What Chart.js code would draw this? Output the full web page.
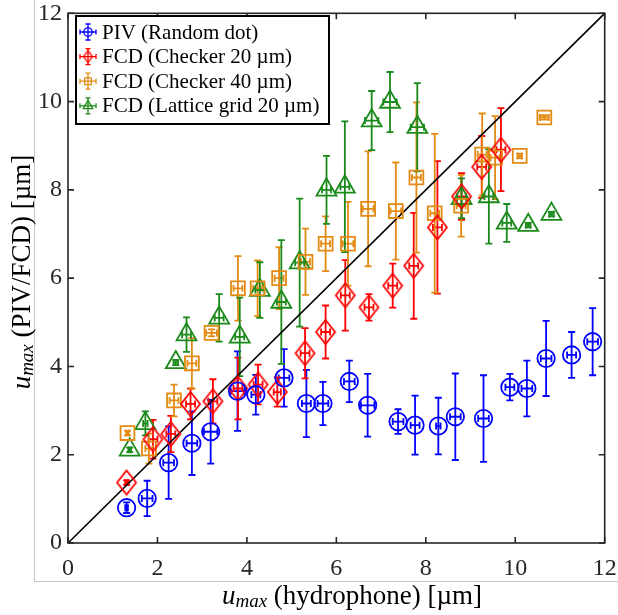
<!DOCTYPE html>
<html>
<head>
<meta charset="utf-8">
<script src="https://cdn.jsdelivr.net/npm/chart.js@4.4.0/dist/chart.umd.min.js"></script>
<style>
  html, body { margin: 0; padding: 0; background: #fff; }
</style>
</head>
<body>
<canvas id="umaxChart" width="618" height="615"></canvas>
<script>
// PIV (Random dot)
const pivX    = [1.31, 1.77, 2.25, 2.77, 3.19, 3.79, 4.20, 4.83, 5.33, 5.70, 6.29, 6.70, 7.38, 7.76, 8.28, 8.66, 9.29, 9.88, 10.26, 10.69, 11.26, 11.73];
const pivY    = [0.80, 1.01, 1.82, 2.26, 2.52, 3.44, 3.36, 3.74, 3.16, 3.16, 3.66, 3.12, 2.75, 2.67, 2.65, 2.86, 2.82, 3.53, 3.50, 4.18, 4.26, 4.56];
const pivXErr = [0.03, 0.12, 0.12, 0.12, 0.15, 0.15, 0.10, 0.12, 0.10, 0.12, 0.12, 0.15, 0.12, 0.10, 0.05, 0.12, 0.12, 0.10, 0.12, 0.12, 0.10, 0.12];
const pivYErr = [0.12, 0.40, 0.82, 0.72, 0.72, 0.90, 0.45, 0.65, 0.76, 0.49, 0.47, 0.71, 0.28, 0.67, 0.64, 0.98, 0.98, 0.30, 0.63, 0.85, 0.52, 0.76];

// FCD (Checker 20 um)
const c20X    = [1.31, 1.90, 2.30, 2.74, 3.24, 3.80, 4.25, 4.68, 5.30, 5.76, 6.20, 6.73, 7.26, 7.73, 8.26, 8.80, 9.25, 9.68];
const c20Y    = [1.37, 2.35, 2.47, 3.15, 3.21, 3.50, 3.59, 3.42, 4.30, 4.78, 5.61, 5.34, 5.83, 6.28, 7.15, 7.85, 8.52, 8.91];
const c20XErr = [0.03, 0.10, 0.10, 0.10, 0.10, 0.10, 0.10, 0.08, 0.10, 0.10, 0.10, 0.10, 0.10, 0.10, 0.10, 0.10, 0.10, 0.10];
const c20YErr = [0.05, 0.44, 0.41, 0.35, 0.50, 0.70, 0.45, 0.33, 0.57, 0.60, 0.80, 0.30, 0.50, 1.20, 1.50, 0.53, 0.70, 0.94];

// FCD (Checker 40 um)
const c40X    = [1.33, 1.81, 2.37, 2.77, 3.21, 3.80, 4.24, 4.72, 5.31, 5.76, 6.26, 6.71, 7.33, 7.79, 8.20, 8.79, 9.26, 9.55, 10.10, 10.65];
const c40Y    = [2.49, 2.14, 3.23, 4.07, 4.76, 5.77, 5.77, 6.00, 6.37, 6.78, 6.78, 7.57, 7.52, 8.28, 7.47, 7.64, 8.80, 8.73, 8.77, 9.64];
const c40XErr = [0.03, 0.08, 0.10, 0.10, 0.12, 0.10, 0.10, 0.10, 0.10, 0.10, 0.12, 0.12, 0.12, 0.10, 0.10, 0.10, 0.10, 0.10, 0.05, 0.10];
const c40YErr = [0.05, 0.34, 0.36, 0.57, 0.08, 0.73, 0.63, 0.70, 0.75, 0.62, 0.95, 1.30, 1.10, 1.70, 1.80, 0.70, 0.93, 0.94, 0.05, 0.05];

// FCD (Lattice grid 20 um)
const latX    = [1.38, 1.73, 2.41, 2.65, 3.38, 3.84, 4.29, 4.77, 5.18, 5.78, 6.19, 6.79, 7.20, 7.81, 8.80, 9.41, 9.81, 10.29, 10.81];
const latY    = [2.11, 2.71, 4.09, 4.72, 5.10, 4.67, 5.73, 5.46, 6.35, 8.00, 8.07, 9.57, 9.99, 9.42, 7.81, 7.85, 7.25, 7.20, 7.45];
const latXErr = [0.03, 0.05, 0.05, 0.10, 0.10, 0.10, 0.10, 0.10, 0.10, 0.10, 0.10, 0.15, 0.15, 0.15, 0.10, 0.10, 0.10, 0.05, 0.05];
const latYErr = [0.05, 0.27, 0.06, 0.39, 0.54, 0.89, 0.63, 1.40, 1.45, 0.77, 1.48, 0.67, 0.68, 1.00, 0.45, 1.07, 0.43, 0.05, 0.05];

const diagonal = [0, 12];
const tickValues = [0, 2, 4, 6, 8, 10, 12];

const SERIF = "'Liberation Serif', 'Times New Roman', serif";

function points(xs, ys) {
  return xs.map((x, i) => ({x: x, y: ys[i]}));
}

// MATLAB's diamond marker is taller than wide, so build it as a small canvas
function diamondMarker(color, hw, hh, lw) {
  const c = document.createElement('canvas');
  c.width = Math.ceil(2 * hw + lw + 2);
  c.height = Math.ceil(2 * hh + lw + 2);
  const g = c.getContext('2d');
  const cx = c.width / 2, cy = c.height / 2;
  g.strokeStyle = color;
  g.lineWidth = lw;
  g.beginPath();
  g.moveTo(cx, cy - hh);
  g.lineTo(cx + hw, cy);
  g.lineTo(cx, cy + hh);
  g.lineTo(cx - hw, cy);
  g.closePath();
  g.stroke();
  return c;
}

function series(label, xs, ys, xErr, yErr, color, style, radius, legendStyle) {
  return {
    type: 'scatter',
    label: label,
    data: points(xs, ys),
    xErr: xErr,
    yErr: yErr,
    pointStyle: style,
    legendStyle: legendStyle || style,
    pointRadius: radius,
    pointHoverRadius: radius,
    borderColor: color,
    backgroundColor: 'rgba(0,0,0,0)',
    pointBorderWidth: 1.8,
    order: 1
  };
}

// keep the plot box where the layout padding puts it
function fixedBox(scale, size) {
  if (scale.isHorizontal()) scale.height = size; else scale.width = size;
  scale.paddingTop = 0;
  scale.paddingBottom = 0;
  scale.paddingLeft = 0;
  scale.paddingRight = 0;
}

// draws the x/y error bars with caps
const errorBars = {
  id: 'errorBars',
  beforeDatasetsDraw(chart) {
    const ctx = chart.ctx;
    const xs = chart.scales.x, ys = chart.scales.y;
    chart.data.datasets.forEach((ds) => {
      if (!ds.yErr) return;
      ctx.save();
      ctx.strokeStyle = ds.borderColor;
      ctx.lineWidth = 1.8;
      ds.data.forEach((p, i) => {
        const px = xs.getPixelForValue(p.x);
        const py = ys.getPixelForValue(p.y);
        const yTop = ys.getPixelForValue(p.y + ds.yErr[i]);
        const yBot = ys.getPixelForValue(p.y - ds.yErr[i]);
        const xL = xs.getPixelForValue(p.x - ds.xErr[i]);
        const xR = xs.getPixelForValue(p.x + ds.xErr[i]);
        const cap = 3.5;
        ctx.beginPath();
        ctx.moveTo(px, yTop); ctx.lineTo(px, yBot);
        ctx.moveTo(px - cap, yTop); ctx.lineTo(px + cap, yTop);
        ctx.moveTo(px - cap, yBot); ctx.lineTo(px + cap, yBot);
        ctx.moveTo(xL, py); ctx.lineTo(xR, py);
        ctx.moveTo(xL, py - cap); ctx.lineTo(xL, py + cap);
        ctx.moveTo(xR, py - cap); ctx.lineTo(xR, py + cap);
        ctx.stroke();
      });
      ctx.restore();
    });
  }
};

// u with italic "max" subscript, then the rest of the label
function drawUmaxLabel(ctx, rest, cx, baseY, angle) {
  const big = "27px " + SERIF;
  const bigIt = "italic 27px " + SERIF;
  const sub = "italic 19px " + SERIF;
  ctx.save();
  ctx.translate(cx, baseY);
  ctx.rotate(angle);
  ctx.fillStyle = '#000';
  ctx.textBaseline = 'alphabetic';
  ctx.textAlign = 'left';
  ctx.font = bigIt; const wu = ctx.measureText('u').width;
  ctx.font = sub; const wm = ctx.measureText('max').width;
  ctx.font = big; const wr = ctx.measureText(rest).width;
  let x0 = -(wu + wm + wr) / 2;
  ctx.font = bigIt; ctx.fillText('u', x0, 0);
  ctx.font = sub; ctx.fillText('max', x0 + wu, 3);
  ctx.font = big; ctx.fillText(rest, x0 + wu + wm, 0);
  ctx.restore();
}

// MATLAB-like box, inward ticks, titles and legend
const decorations = {
  id: 'decorations',
  afterDraw(chart) {
    const ctx = chart.ctx;
    const a = chart.chartArea;
    const xs = chart.scales.x, ys = chart.scales.y;

    // light figure frame
    ctx.save();
    ctx.strokeStyle = '#c8c8c8';
    ctx.lineWidth = 1;
    ctx.beginPath();
    ctx.moveTo(34.5, 0); ctx.lineTo(34.5, 581.5); ctx.lineTo(618, 581.5);
    ctx.stroke();

    // axes box
    ctx.strokeStyle = '#262626';
    ctx.lineWidth = 1.6;
    ctx.strokeRect(a.left, a.top, a.right - a.left, a.bottom - a.top);
    ctx.beginPath();
    tickValues.forEach((v) => {
      const px = xs.getPixelForValue(v);
      const py = ys.getPixelForValue(v);
      ctx.moveTo(px, a.bottom); ctx.lineTo(px, a.bottom - 6);
      ctx.moveTo(px, a.top); ctx.lineTo(px, a.top + 6);
      ctx.moveTo(a.left, py); ctx.lineTo(a.left + 6, py);
      ctx.moveTo(a.right, py); ctx.lineTo(a.right - 6, py);
    });
    ctx.stroke();
    ctx.restore();

    drawUmaxLabel(ctx, ' (hydrophone) [\u00b5m]', 352, 604, 0);
    drawUmaxLabel(ctx, ' (PIV/FCD) [\u00b5m]', 30, 272, -Math.PI / 2);

    // legend
    ctx.save();
    const bx = 76, by = 16, bw = 253, bh = 108;
    ctx.fillStyle = '#fff';
    ctx.fillRect(bx, by, bw, bh);
    ctx.strokeStyle = '#000';
    ctx.lineWidth = 2;
    ctx.strokeRect(bx, by, bw, bh);
    const rows = chart.data.datasets.filter((d) => d.yErr);
    rows.forEach((ds, i) => {
      const cy = 32 + i * 24.6;
      const cx = 88;
      ctx.strokeStyle = ds.borderColor;
      ctx.lineWidth = 1.3;
      ctx.beginPath();
      ctx.moveTo(cx - 8, cy); ctx.lineTo(cx + 8, cy);
      ctx.moveTo(cx - 8, cy - 2.5); ctx.lineTo(cx - 8, cy + 2.5);
      ctx.moveTo(cx + 8, cy - 2.5); ctx.lineTo(cx + 8, cy + 2.5);
      ctx.moveTo(cx, cy - 8); ctx.lineTo(cx, cy + 8);
      ctx.moveTo(cx - 2.5, cy - 8); ctx.lineTo(cx + 2.5, cy - 8);
      ctx.moveTo(cx - 2.5, cy + 8); ctx.lineTo(cx + 2.5, cy + 8);
      ctx.stroke();
      ctx.fillStyle = 'rgba(0,0,0,0)';
      Chart.helpers.drawPoint(ctx, {
        pointStyle: ds.legendStyle,
        radius: ds.pointRadius * 0.48,
        borderWidth: 1.3,
        rotation: 0
      }, cx, cy);
      ctx.fillStyle = '#000';
      ctx.font = "21px " + SERIF;
      ctx.textBaseline = 'middle';
      ctx.textAlign = 'left';
      ctx.fillText(ds.label, 102, cy + 1);
    });
    ctx.restore();
  }
};

const RED = '#ff0000';

new Chart(document.getElementById('umaxChart'), {
  data: {
    datasets: [
      series('PIV (Random dot)', pivX, pivY, pivXErr, pivYErr, '#0000ff', 'circle', 8.7),
      series('FCD (Checker 20 \u00b5m)', c20X, c20Y, c20XErr, c20YErr, RED,
          diamondMarker(RED, 9.5, 12, 1.8), 11, diamondMarker(RED, 4.5, 6, 1.3)),
      series('FCD (Checker 40 \u00b5m)', c40X, c40Y, c40XErr, c40YErr, '#e38a12', 'rect', 9.8),
      series('FCD (Lattice grid 20 \u00b5m)', latX, latY, latXErr, latYErr, '#1a8a1a', 'triangle', 11.5),
      {
        type: 'line',
        label: 'y = x',
        data: points(diagonal, diagonal),
        borderColor: '#000',
        borderWidth: 1.6,
        pointRadius: 0,
        fill: false,
        order: 10
      }
    ]
  },
  options: {
    responsive: false,
    animation: false,
    layout: {
      padding: {left: 0, top: 8, right: 13, bottom: 0}
    },
    plugins: {
      legend: {display: false},
      tooltip: {enabled: false}
    },
    scales: {
      x: {
        type: 'linear',
        min: 0,
        max: 12,
        afterFit: (scale) => fixedBox(scale, 72),
        grid: {display: false, drawTicks: false},
        border: {display: false},
        ticks: {
          stepSize: 2,
          padding: 11,
          color: '#262626',
          font: {family: SERIF, size: 24}
        }
      },
      y: {
        type: 'linear',
        min: 0,
        max: 12,
        afterFit: (scale) => fixedBox(scale, 68),
        grid: {display: false, drawTicks: false},
        border: {display: false},
        ticks: {
          stepSize: 2,
          padding: 6,
          color: '#262626',
          font: {family: SERIF, size: 24}
        }
      }
    }
  },
  plugins: [errorBars, decorations]
});
</script>
</body>
</html>
